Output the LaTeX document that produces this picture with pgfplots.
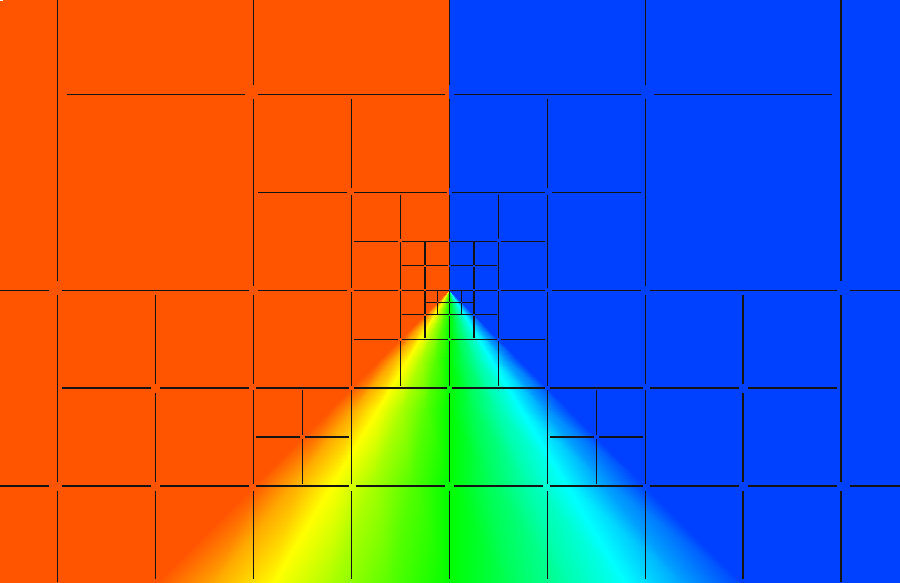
\documentclass[border=0pt]{standalone}
\usepackage{pgfplots}
\pgfplotsset{compat=1.18}
\begin{document}
\begin{tikzpicture}
\begin{axis}[
  scale only axis, width=900bp, height=582bp,
  hide axis, view={0}{90},
  xmin=0, xmax=900, ymin=-582, ymax=0, zmin=-1, zmax=1,
  colormap={fan}{rgb255=(255,85,0) rgb255=(255,170,0) rgb255=(255,255,0) rgb255=(170,255,0) rgb255=(85,255,0) rgb255=(0,255,0) rgb255=(0,255,85) rgb255=(0,255,170) rgb255=(0,255,255) rgb255=(0,159,255) rgb255=(0,64,255)},
  point meta min=-1, point meta max=1,
  clip=true,
]
\addplot3[surf, shader=interp, mesh/rows=11, mesh/cols=13] table[row sep=\\, x=x, y=y, z=c, meta=c] {
x y c\\
-5 5 -1\\ 449.4 5 -1\\ 449.4 5 -0.8\\ 449.4 5 -0.6\\ 449.4 5 -0.4\\ 449.4 5 -0.2\\ 449.4 5 0\\ 449.4 5 0.2\\ 449.4 5 0.4\\ 449.4 5 0.6\\ 449.4 5 0.8\\ 449.4 5 1\\ 905 5 1\\
-5 -290.2 -1\\ 449.4 -290.2 -1\\ 449.4 -290.2 -0.8\\ 449.4 -290.2 -0.6\\ 449.4 -290.2 -0.4\\ 449.4 -290.2 -0.2\\ 449.4 -290.2 0\\ 449.4 -290.2 0.2\\ 449.4 -290.2 0.4\\ 449.4 -290.2 0.6\\ 449.4 -290.2 0.8\\ 449.4 -290.2 1\\ 905 -290.2 1\\
-5 -292.2 -1\\ 447.4 -292.2 -1\\ 447.8 -292.2 -0.8\\ 448.2 -292.2 -0.6\\ 448.6 -292.2 -0.4\\ 449.0 -292.2 -0.2\\ 449.4 -292.2 0\\ 449.8 -292.2 0.2\\ 450.2 -292.2 0.4\\ 450.6 -292.2 0.6\\ 451.0 -292.2 0.8\\ 451.4 -292.2 1\\ 905 -292.2 1\\
-5 -295.2 -1\\ 444.4 -295.2 -1\\ 445.4 -295.2 -0.8\\ 446.4 -295.2 -0.6\\ 447.4 -295.2 -0.4\\ 448.4 -295.2 -0.2\\ 449.4 -295.2 0\\ 450.4 -295.2 0.2\\ 451.4 -295.2 0.4\\ 452.4 -295.2 0.6\\ 453.4 -295.2 0.8\\ 454.4 -295.2 1\\ 905 -295.2 1\\
-5 -300.2 -1\\ 439.4 -300.2 -1\\ 441.4 -300.2 -0.8\\ 443.4 -300.2 -0.6\\ 445.4 -300.2 -0.4\\ 447.4 -300.2 -0.2\\ 449.4 -300.2 0\\ 451.4 -300.2 0.2\\ 453.4 -300.2 0.4\\ 455.4 -300.2 0.6\\ 457.4 -300.2 0.8\\ 459.4 -300.2 1\\ 905 -300.2 1\\
-5 -310.2 -1\\ 429.4 -310.2 -1\\ 433.4 -310.2 -0.8\\ 437.4 -310.2 -0.6\\ 441.4 -310.2 -0.4\\ 445.4 -310.2 -0.2\\ 449.4 -310.2 0\\ 453.4 -310.2 0.2\\ 457.4 -310.2 0.4\\ 461.4 -310.2 0.6\\ 465.4 -310.2 0.8\\ 469.4 -310.2 1\\ 905 -310.2 1\\
-5 -330.2 -1\\ 409.4 -330.2 -1\\ 417.4 -330.2 -0.8\\ 425.4 -330.2 -0.6\\ 433.4 -330.2 -0.4\\ 441.4 -330.2 -0.2\\ 449.4 -330.2 0\\ 457.4 -330.2 0.2\\ 465.4 -330.2 0.4\\ 473.4 -330.2 0.6\\ 481.4 -330.2 0.8\\ 489.4 -330.2 1\\ 905 -330.2 1\\
-5 -360.2 -1\\ 379.4 -360.2 -1\\ 393.4 -360.2 -0.8\\ 407.4 -360.2 -0.6\\ 421.4 -360.2 -0.4\\ 435.4 -360.2 -0.2\\ 449.4 -360.2 0\\ 463.4 -360.2 0.2\\ 477.4 -360.2 0.4\\ 491.4 -360.2 0.6\\ 505.4 -360.2 0.8\\ 519.4 -360.2 1\\ 905 -360.2 1\\
-5 -410.2 -1\\ 329.4 -410.2 -1\\ 353.4 -410.2 -0.8\\ 377.4 -410.2 -0.6\\ 401.4 -410.2 -0.4\\ 425.4 -410.2 -0.2\\ 449.4 -410.2 0\\ 473.4 -410.2 0.2\\ 497.4 -410.2 0.4\\ 521.4 -410.2 0.6\\ 545.4 -410.2 0.8\\ 569.4 -410.2 1\\ 905 -410.2 1\\
-5 -480.2 -1\\ 259.4 -480.2 -1\\ 297.4 -480.2 -0.8\\ 335.4 -480.2 -0.6\\ 373.4 -480.2 -0.4\\ 411.4 -480.2 -0.2\\ 449.4 -480.2 0\\ 487.4 -480.2 0.2\\ 525.4 -480.2 0.4\\ 563.4 -480.2 0.6\\ 601.4 -480.2 0.8\\ 639.4 -480.2 1\\ 905 -480.2 1\\
-5 -590.2 -1\\ 149.4 -590.2 -1\\ 209.4 -590.2 -0.8\\ 269.4 -590.2 -0.6\\ 329.4 -590.2 -0.4\\ 389.4 -590.2 -0.2\\ 449.4 -590.2 0\\ 509.4 -590.2 0.2\\ 569.4 -590.2 0.4\\ 629.4 -590.2 0.6\\ 689.4 -590.2 0.8\\ 749.4 -590.2 1\\ 905 -590.2 1\\
};
\addplot3[no marks, draw=black!92, line width=1.35bp, unbounded coords=jump] table[row sep=\\] {
x y z\\
57.8 5 0\\ 57.8 -281.2 0\\ nan nan nan\\
57.8 -294.7 0\\ 57.8 -481.5 0\\ nan nan nan\\
57.8 -490.5 0\\ 57.8 -590 0\\ nan nan nan\\
841.0 5 0\\ 841.0 -281.2 0\\ nan nan nan\\
841.0 -294.7 0\\ 841.0 -481.5 0\\ nan nan nan\\
841.0 -490.5 0\\ 841.0 -590 0\\ nan nan nan\\
155.7 -294.7 0\\ 155.7 -383.6 0\\ nan nan nan\\
155.7 -392.6 0\\ 155.7 -481.5 0\\ nan nan nan\\
155.7 -490.5 0\\ 155.7 -579.4 0\\ nan nan nan\\
743.1 -294.7 0\\ 743.1 -383.6 0\\ nan nan nan\\
743.1 -392.6 0\\ 743.1 -481.5 0\\ nan nan nan\\
743.1 -490.5 0\\ 743.1 -579.4 0\\ nan nan nan\\
253.6 5 0\\ 253.6 -85.4 0\\ nan nan nan\\
253.6 -98.9 0\\ 253.6 -285.7 0\\ nan nan nan\\
253.6 -294.7 0\\ 253.6 -383.6 0\\ nan nan nan\\
253.6 -390.35 0\\ 253.6 -483.75 0\\ nan nan nan\\
253.6 -490.5 0\\ 253.6 -579.4 0\\ nan nan nan\\
645.2 5 0\\ 645.2 -85.4 0\\ nan nan nan\\
645.2 -98.9 0\\ 645.2 -285.7 0\\ nan nan nan\\
645.2 -294.7 0\\ 645.2 -383.6 0\\ nan nan nan\\
645.2 -390.35 0\\ 645.2 -483.75 0\\ nan nan nan\\
645.2 -490.5 0\\ 645.2 -579.4 0\\ nan nan nan\\
302.55 -390.35 0\\ 302.55 -434.8 0\\ nan nan nan\\
302.55 -439.3 0\\ 302.55 -483.75 0\\ nan nan nan\\
596.3 -390.35 0\\ 596.3 -434.8 0\\ nan nan nan\\
596.3 -439.3 0\\ 596.3 -483.75 0\\ nan nan nan\\
351.5 -98.9 0\\ 351.5 -187.8 0\\ nan nan nan\\
351.5 -194.55 0\\ 351.5 -287.95 0\\ nan nan nan\\
351.5 -292.45 0\\ 351.5 -385.85 0\\ nan nan nan\\
351.5 -390.35 0\\ 351.5 -483.75 0\\ nan nan nan\\
351.5 -490.5 0\\ 351.5 -579.4 0\\ nan nan nan\\
547.3 -98.9 0\\ 547.3 -187.8 0\\ nan nan nan\\
547.3 -194.55 0\\ 547.3 -287.95 0\\ nan nan nan\\
547.3 -292.45 0\\ 547.3 -385.85 0\\ nan nan nan\\
547.3 -390.35 0\\ 547.3 -483.75 0\\ nan nan nan\\
547.3 -490.5 0\\ 547.3 -579.4 0\\ nan nan nan\\
400.45 -194.55 0\\ 400.45 -239.0 0\\ nan nan nan\\
400.45 -242.4 0\\ 400.45 -289.1 0\\ nan nan nan\\
400.45 -291.3 0\\ 400.45 -338.0 0\\ nan nan nan\\
400.45 -341.4 0\\ 400.45 -385.85 0\\ nan nan nan\\
498.4 -194.55 0\\ 498.4 -239.0 0\\ nan nan nan\\
498.4 -242.4 0\\ 498.4 -289.1 0\\ nan nan nan\\
498.4 -291.3 0\\ 498.4 -338.0 0\\ nan nan nan\\
498.4 -341.4 0\\ 498.4 -385.85 0\\ nan nan nan\\
424.9 -242.4 0\\ 424.9 -264.6 0\\ nan nan nan\\
424.9 -266.8 0\\ 424.9 -289.1 0\\ nan nan nan\\
424.9 -290.76 0\\ 424.9 -314.14 0\\ nan nan nan\\
424.9 -315.8 0\\ 424.9 -338.0 0\\ nan nan nan\\
473.9 -242.4 0\\ 473.9 -264.6 0\\ nan nan nan\\
473.9 -266.8 0\\ 473.9 -289.1 0\\ nan nan nan\\
473.9 -290.76 0\\ 473.9 -314.14 0\\ nan nan nan\\
473.9 -315.8 0\\ 473.9 -338.0 0\\ nan nan nan\\
437.2 -290.76 0\\ 437.2 -301.88 0\\ nan nan nan\\
437.2 -303.0 0\\ 437.2 -314.14 0\\ nan nan nan\\
461.6 -290.76 0\\ 461.6 -301.88 0\\ nan nan nan\\
461.6 -303.0 0\\ 461.6 -314.14 0\\ nan nan nan\\
449.4 5 0\\ 449.4 -85.4 0\\ nan nan nan\\
449.4 -98.9 0\\ 449.4 -187.8 0\\ nan nan nan\\
449.4 -194.55 0\\ 449.4 -239.0 0\\ nan nan nan\\
449.4 -242.4 0\\ 449.4 -264.6 0\\ nan nan nan\\
449.4 -266.8 0\\ 449.4 -289.1 0\\ nan nan nan\\
449.4 -290.76 0\\ 449.4 -301.88 0\\ nan nan nan\\
449.4 -303.0 0\\ 449.4 -314.14 0\\ nan nan nan\\
449.4 -315.8 0\\ 449.4 -338.0 0\\ nan nan nan\\
449.4 -341.4 0\\ 449.4 -385.85 0\\ nan nan nan\\
449.4 -392.6 0\\ 449.4 -481.5 0\\ nan nan nan\\
449.4 -490.5 0\\ 449.4 -579.4 0\\ nan nan nan\\
66.8 -94.4 0\\ 244.6 -94.4 0\\ nan nan nan\\
258.1 -94.4 0\\ 444.9 -94.4 0\\ nan nan nan\\
453.9 -94.4 0\\ 640.7 -94.4 0\\ nan nan nan\\
654.2 -94.4 0\\ 832.0 -94.4 0\\ nan nan nan\\
258.1 -192.3 0\\ 347.0 -192.3 0\\ nan nan nan\\
353.75 -192.3 0\\ 447.15 -192.3 0\\ nan nan nan\\
451.65 -192.3 0\\ 545.05 -192.3 0\\ nan nan nan\\
551.8 -192.3 0\\ 640.7 -192.3 0\\ nan nan nan\\
353.75 -241.25 0\\ 398.2 -241.25 0\\ nan nan nan\\
401.6 -241.25 0\\ 448.3 -241.25 0\\ nan nan nan\\
450.5 -241.25 0\\ 497.3 -241.25 0\\ nan nan nan\\
500.6 -241.25 0\\ 545.05 -241.25 0\\ nan nan nan\\
401.6 -265.7 0\\ 423.8 -265.7 0\\ nan nan nan\\
426.0 -265.7 0\\ 448.3 -265.7 0\\ nan nan nan\\
450.5 -265.7 0\\ 472.8 -265.7 0\\ nan nan nan\\
475.0 -265.7 0\\ 497.3 -265.7 0\\ nan nan nan\\
-5 -290.2 0\\ 48.8 -290.2 0\\ nan nan nan\\
62.3 -290.2 0\\ 249.1 -290.2 0\\ nan nan nan\\
258.1 -290.2 0\\ 347.0 -290.2 0\\ nan nan nan\\
353.75 -290.2 0\\ 398.2 -290.2 0\\ nan nan nan\\
401.6 -290.2 0\\ 423.8 -290.2 0\\ nan nan nan\\
425.5 -290.2 0\\ 448.84 -290.2 0\\ nan nan nan\\
449.96 -290.2 0\\ 473.3 -290.2 0\\ nan nan nan\\
475.0 -290.2 0\\ 497.3 -290.2 0\\ nan nan nan\\
500.6 -290.2 0\\ 545.05 -290.2 0\\ nan nan nan\\
551.8 -290.2 0\\ 640.7 -290.2 0\\ nan nan nan\\
649.7 -290.2 0\\ 836.5 -290.2 0\\ nan nan nan\\
850.0 -290.2 0\\ 905 -290.2 0\\ nan nan nan\\
425.5 -302.44 0\\ 436.6 -302.44 0\\ nan nan nan\\
437.8 -302.44 0\\ 448.84 -302.44 0\\ nan nan nan\\
449.96 -302.44 0\\ 461.0 -302.44 0\\ nan nan nan\\
462.2 -302.44 0\\ 473.3 -302.44 0\\ nan nan nan\\
401.6 -314.7 0\\ 423.8 -314.7 0\\ nan nan nan\\
425.5 -314.7 0\\ 448.84 -314.7 0\\ nan nan nan\\
449.96 -314.7 0\\ 473.3 -314.7 0\\ nan nan nan\\
475.0 -314.7 0\\ 497.3 -314.7 0\\ nan nan nan\\
353.75 -339.15 0\\ 398.2 -339.15 0\\ nan nan nan\\
401.6 -339.15 0\\ 448.3 -339.15 0\\ nan nan nan\\
450.5 -339.15 0\\ 497.3 -339.15 0\\ nan nan nan\\
500.6 -339.15 0\\ 545.05 -339.15 0\\ nan nan nan\\
62.3 -388.1 0\\ 151.2 -388.1 0\\ nan nan nan\\
160.2 -388.1 0\\ 249.1 -388.1 0\\ nan nan nan\\
255.85 -388.1 0\\ 349.25 -388.1 0\\ nan nan nan\\
353.75 -388.1 0\\ 447.15 -388.1 0\\ nan nan nan\\
451.65 -388.1 0\\ 545.05 -388.1 0\\ nan nan nan\\
549.55 -388.1 0\\ 642.95 -388.1 0\\ nan nan nan\\
649.7 -388.1 0\\ 738.6 -388.1 0\\ nan nan nan\\
747.6 -388.1 0\\ 836.5 -388.1 0\\ nan nan nan\\
255.85 -437.05 0\\ 300.3 -437.05 0\\ nan nan nan\\
304.8 -437.05 0\\ 349.25 -437.05 0\\ nan nan nan\\
549.55 -437.05 0\\ 594.0 -437.05 0\\ nan nan nan\\
598.5 -437.05 0\\ 642.95 -437.05 0\\ nan nan nan\\
-5 -486.0 0\\ 48.8 -486.0 0\\ nan nan nan\\
62.3 -486.0 0\\ 151.2 -486.0 0\\ nan nan nan\\
160.2 -486.0 0\\ 249.1 -486.0 0\\ nan nan nan\\
255.85 -486.0 0\\ 349.25 -486.0 0\\ nan nan nan\\
356.0 -486.0 0\\ 444.9 -486.0 0\\ nan nan nan\\
453.9 -486.0 0\\ 542.8 -486.0 0\\ nan nan nan\\
549.55 -486.0 0\\ 642.95 -486.0 0\\ nan nan nan\\
649.7 -486.0 0\\ 738.6 -486.0 0\\ nan nan nan\\
747.6 -486.0 0\\ 836.5 -486.0 0\\ nan nan nan\\
850.0 -486.0 0\\ 905 -486.0 0\\
};
\end{axis}
\end{tikzpicture}
\end{document}
